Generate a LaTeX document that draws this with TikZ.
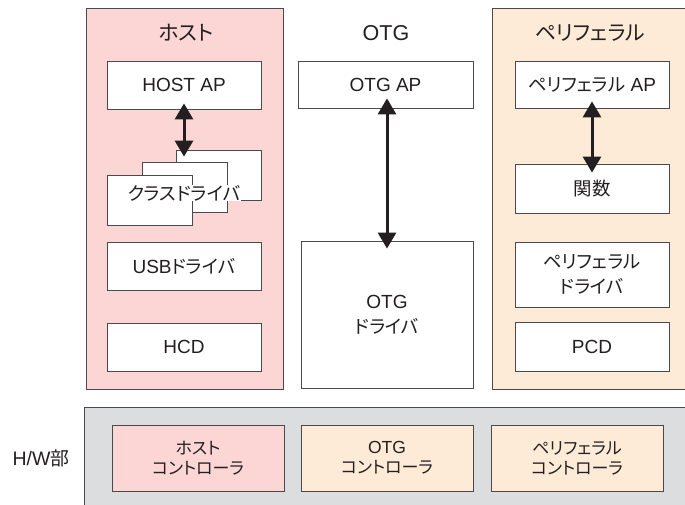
\documentclass[tikz,border=0pt]{standalone}
\usepackage{fontspec}
\setmainfont{Liberation Sans}
\newfontfamily\jp[Scale=0.97,RawFeature=+palt]{Noto Sans CJK JP}
\usetikzlibrary{arrows.meta}
\newcommand\J[1]{{\jp #1}}
\definecolor{hostpink}{HTML}{FCD5D5}
\definecolor{peach}{HTML}{FDEBD8}
\definecolor{hwgray}{HTML}{DCDDDF}
\definecolor{edge}{HTML}{4A4A4A}
\definecolor{ink}{HTML}{231F20}
\tikzset{
  panel/.style={draw=edge, line width=0.9pt, inner sep=0pt},
  blk/.style={draw=edge, line width=0.8pt, fill=white, inner sep=0pt, align=center,
    text=ink, font=\fontsize{19}{25}\selectfont},
  ctrl/.style={blk, font=\fontsize{17.5}{20}\selectfont},
  ttl/.style={text=ink, font=\fontsize{21.5}{25}\selectfont, inner sep=0pt},
  dbl/.style={{Triangle[width=18pt,length=16pt]}-{Triangle[width=18pt,length=16pt]},
    line width=3pt, draw=ink, fill=ink}
}
\begin{document}
\begin{tikzpicture}[x=1pt,y=-1pt]
\useasboundingbox (0,0) rectangle (685,504);

% software columns
\node[panel, fill=hostpink, minimum width=197pt, minimum height=381pt] (hostcol) at (184.5,198.5) {};
\node[panel, fill=peach, minimum width=198pt, minimum height=381pt] (pericol) at (591,198.5) {};

\node[ttl] (thost) at (186,33) {\J{ホスト}};
\node[ttl] (totg) at (386,33) {OTG};
\node[ttl] (tperi) at (590,33) {\J{ペリフェラル}};

% host stack
\node[blk, minimum width=154pt, minimum height=48pt] (hostap) at (184,85) {HOST AP};
\node[blk, minimum width=85pt, minimum height=50pt] (cls3) at (218.5,175) {};
\node[blk, minimum width=85pt, minimum height=50pt] (cls2) at (184.5,187) {};
\node[blk, minimum width=85pt, minimum height=50pt] (cls1) at (149.5,200) {};
\node[fill=white, inner sep=0.5pt, text=ink, font=\fontsize{19}{25}\selectfont] (clstxt) at (184,193) {\J{クラスドライバ}};
\node[blk, minimum width=154pt, minimum height=48pt] (usb) at (184,266) {USB\J{ドライバ}};
\node[blk, minimum width=154pt, minimum height=48pt] (hcd) at (184,347) {HCD};

% OTG stack
\node[blk, minimum width=175pt, minimum height=47pt] (otgap) at (385.5,84.5) {OTG AP};
\node[blk, minimum width=172pt, minimum height=147pt] (otgdrv) at (387,314.5) {OTG\\\J{ドライバ}};

% peripheral stack
\node[blk, minimum width=154pt, minimum height=47pt] (periap) at (592,84.5) {\J{ペリフェラル} AP};
\node[blk, minimum width=154pt, minimum height=49pt] (func) at (592,188.5) {\J{関数}};
\node[blk, minimum width=154pt, minimum height=65pt] (peridrv) at (592,274.5) {\J{ペリフェラル}\\\J{ドライバ}};
\node[blk, minimum width=154pt, minimum height=49pt] (pcd) at (592,346.5) {PCD};

% arrows between layers
\coordinate (h1) at ([yshift=6pt]hostap.south);
\coordinate (h2) at (h1 |- cls3.north);
\draw[dbl] (h1) -- ([yshift=-7pt]h2);
\draw[dbl] ([yshift=10pt,xshift=1.5pt]otgap.south) -- ([yshift=-8pt]otgdrv.north);
\draw[dbl] ([yshift=7pt]periap.south) -- ([yshift=-9pt]func.north);

% hardware layer
\node[panel, fill=hwgray, minimum width=606pt, minimum height=103pt] (hw) at (387,458.5) {};
\node[text=ink, font=\fontsize{19.5}{20}\selectfont, inner sep=0pt] (hwlbl) at (41,458) {H/W\J{部}};
\node[ctrl, fill=hostpink, minimum width=172pt, minimum height=66pt] (hostctl) at (198,458) {\J{ホスト}\\\J{コントローラ}};
\node[ctrl, fill=peach, minimum width=172pt, minimum height=66pt] (otgctl) at (387,458) {OTG\\\J{コントローラ}};
\node[ctrl, fill=peach, minimum width=172pt, minimum height=66pt] (perictl) at (577,458) {\J{ペリフェラル}\\\J{コントローラ}};
\end{tikzpicture}
\end{document}
